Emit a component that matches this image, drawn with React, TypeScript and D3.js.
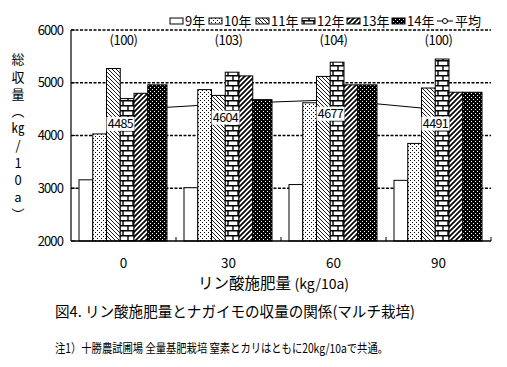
import React from 'react';
import * as d3 from 'd3';

// P applied (kg/10a) and yield per year (kg/10a)
const rates = ['0', '30', '60', '90'];
const years = ['9年', '10年', '11年', '12年', '13年', '14年'];
const y9 = [3160, 3010, 3070, 3150];
const y10 = [4030, 4870, 4620, 3850];
const y11 = [5270, 4760, 5120, 4900];
const y12 = [4700, 5200, 5390, 5450];
const y13 = [4800, 5130, 4960, 4820];
const y14 = [4960, 4680, 4960, 4820];
const average = [4485, 4604, 4677, 4491];
const ratio = ['(100)', '(103)', '(104)', '(100)'];
const yTicks = [2000, 3000, 4000, 5000, 6000];
const yTitle = '総収量（㎏/10a）';

const series = [y9, y10, y11, y12, y13, y14];
const fills = ['#fff', 'url(#p10)', 'url(#p11)', 'url(#p12)', 'url(#p13)', 'url(#p14)'];
// the last bar in each group is drawn a bit wider in the original
const barWeights = [1, 1, 1, 1, 1, 1.4];

const font = '"Noto Sans CJK JP", "Noto Sans", sans-serif';

const App = () => {
  const width = 507;
  const height = 367;
  const margin = { top: 30, right: 16, bottom: 126, left: 71 };
  const plotBottom = height - margin.bottom;
  const plotRight = width - margin.right;

  const xScale = d3
    .scaleBand()
    .domain(rates)
    .range([margin.left, plotRight])
    .padding(0);

  const cum = [0];
  barWeights.forEach(w => cum.push(cum[cum.length - 1] + w));
  const inner = d3
    .scaleLinear()
    .domain([0, cum[cum.length - 1]])
    .range([8, 96]);

  const yScale = d3
    .scaleLinear()
    .domain([2000, 6000])
    .range([plotBottom, margin.top]);

  const cx = (i: number) => (xScale(rates[i]) as number) + xScale.bandwidth() / 2;

  const line = d3
    .line<number>()
    .x((d, i) => cx(i))
    .y(d => yScale(d));

  const legendX = [170, 209, 256, 302, 347, 392, 437];

  return (
    <svg
      width={width}
      height={height}
      viewBox={`0 0 ${width} ${height}`}
      style={{ position: 'absolute', left: 0, top: 0, background: '#fff' }}
      fontFamily={font}
    >
      <defs>
        <pattern id='p10' width={4} height={4} patternUnits='userSpaceOnUse'>
          <rect width={4} height={4} fill='#fff' />
          <rect x={0} y={0} width={1} height={1} fill='#000' />
          <rect x={2} y={2} width={1} height={1} fill='#000' />
        </pattern>
        <pattern id='p11' width={4} height={4} patternUnits='userSpaceOnUse'>
          <rect width={4} height={4} fill='#fff' />
          <path d='M0,0L4,4M-1,3L1,5M3,-1L5,1' stroke='#000' strokeWidth={0.9} />
        </pattern>
        <pattern id='p12' width={10} height={10} patternUnits='userSpaceOnUse'>
          <rect width={10} height={10} fill='#fff' />
          <path d='M0,0.7H10M0,5.7H10M2,0.7V5.7M7,5.7V10.7' stroke='#000' strokeWidth={1.4} />
        </pattern>
        <pattern id='p13' width={5} height={5} patternUnits='userSpaceOnUse'>
          <rect width={5} height={5} fill='#fff' />
          <path d='M0,5L5,0M-1,1L1,-1M4,6L6,4' stroke='#000' strokeWidth={1.7} />
        </pattern>
        <pattern id='p14' width={4} height={4} patternUnits='userSpaceOnUse'>
          <rect width={4} height={4} fill='#000' />
          <rect x={1} y={1} width={1} height={1} fill='#fff' />
          <rect x={3} y={3} width={1} height={1} fill='#fff' />
        </pattern>
      </defs>

      {/* dotted grid */}
      {yTicks.slice(1).map(t => (
        <line
          key={`g-${t}`}
          x1={margin.left}
          x2={plotRight}
          y1={yScale(t)}
          y2={yScale(t)}
          stroke='#000'
          strokeWidth={1.5}
          strokeDasharray='3,1.5'
        />
      ))}

      {/* average line (behind bars) */}
      <path d={line(average) as string} fill='none' stroke='#000' strokeWidth={1} />
      {average.map((d, i) => (
        <circle key={`m-${i}`} cx={cx(i)} cy={yScale(d)} r={2.5} fill='#fff' stroke='#000' />
      ))}

      {/* bars */}
      {rates.map((r, gi) => (
        <g key={`grp-${r}`} transform={`translate(${xScale(r)},0)`}>
          {series.map((s, si) => (
            <rect
              key={`bar-${si}`}
              x={inner(cum[si])}
              y={yScale(s[gi])}
              width={inner(cum[si + 1]) - inner(cum[si])}
              height={plotBottom - yScale(s[gi])}
              fill={fills[si]}
              stroke='#000'
              strokeWidth={1}
            />
          ))}
        </g>
      ))}

      {/* average labels */}
      {average.map((d, i) => (
        <g key={`al-${i}`} transform={`translate(${cx(i) - 3},${yScale(d) + 14})`}>
          <rect x={-14} y={-7} width={28} height={14} fill='#fff' />
          <text textAnchor='middle' dy='0.36em' fontSize={12.5} letterSpacing={-0.6}>
            {d}
          </text>
        </g>
      ))}

      {/* index labels */}
      {ratio.map((t, i) => (
        <text key={`r-${i}`} x={cx(i)} y={40} dy='0.36em' textAnchor='middle' fontSize={13} letterSpacing={-0.5}>
          {t}
        </text>
      ))}

      {/* axes */}
      <line x1={margin.left} x2={margin.left} y1={margin.top} y2={plotBottom} stroke='#000' strokeWidth={1.2} />
      <line x1={margin.left} x2={plotRight} y1={plotBottom} y2={plotBottom} stroke='#000' strokeWidth={1.5} />
      {yTicks.map(t => (
        <g key={`yt-${t}`}>
          <line x1={margin.left} x2={margin.left + 4} y1={yScale(t)} y2={yScale(t)} stroke='#000' />
          <text x={margin.left - 8} y={yScale(t)} dy='0.36em' textAnchor='end' fontSize={13} letterSpacing={-0.9}>
            {t}
          </text>
        </g>
      ))}
      {rates.map((r, i) => (
        <g key={`xt-${r}`}>
          <line
            x1={(xScale(r) as number) + xScale.bandwidth()}
            x2={(xScale(r) as number) + xScale.bandwidth()}
            y1={plotBottom}
            y2={plotBottom - 4}
            stroke='#000'
          />
          <text x={cx(i)} y={263} dy='0.36em' textAnchor='middle' fontSize={13.5}>
            {r}
          </text>
        </g>
      ))}

      {/* y title, vertical */}
      <text
        x={18}
        y={53}
        fontSize={13}
        letterSpacing={4.2}
        style={{ writingMode: 'vertical-rl', textOrientation: 'upright' } as React.CSSProperties}
      >
        {yTitle}
      </text>

      {/* x title */}
      <text x={198} y={283} dy='0.36em' fontSize={15.5}>
        リン酸施肥量 <tspan fontSize={14}>(kg/10a)</tspan>
      </text>

      {/* legend */}
      {years.map((y, i) => (
        <g key={`lg-${i}`} transform={`translate(${legendX[i]},0)`}>
          <rect x={0} y={18} width={13} height={6} fill={fills[i]} stroke='#000' strokeWidth={1} />
          <text x={15} y={21} dy='0.36em' fontSize={13}>
            {y}
          </text>
        </g>
      ))}
      <g transform={`translate(${legendX[6]},0)`}>
        <line x1={0} x2={16} y1={21} y2={21} stroke='#000' />
        <circle cx={8} cy={21} r={2.5} fill='#fff' stroke='#000' />
        <text x={18} y={21} dy='0.36em' fontSize={13}>
          平均
        </text>
      </g>

      {/* caption */}
      <text x={55} y={312} dy='0.36em' fontSize={15} textLength={360} lengthAdjust='spacingAndGlyphs'>
        図4. リン酸施肥量とナガイモの収量の関係(マルチ栽培)
      </text>
      <text x={55} y={348} dy='0.36em' fontSize={12.5} textLength={333} lengthAdjust='spacingAndGlyphs'>
        注1）十勝農試圃場 全量基肥栽培 窒素とカリはともに20kg/10aで共通。
      </text>
    </svg>
  );
};

export default App;
